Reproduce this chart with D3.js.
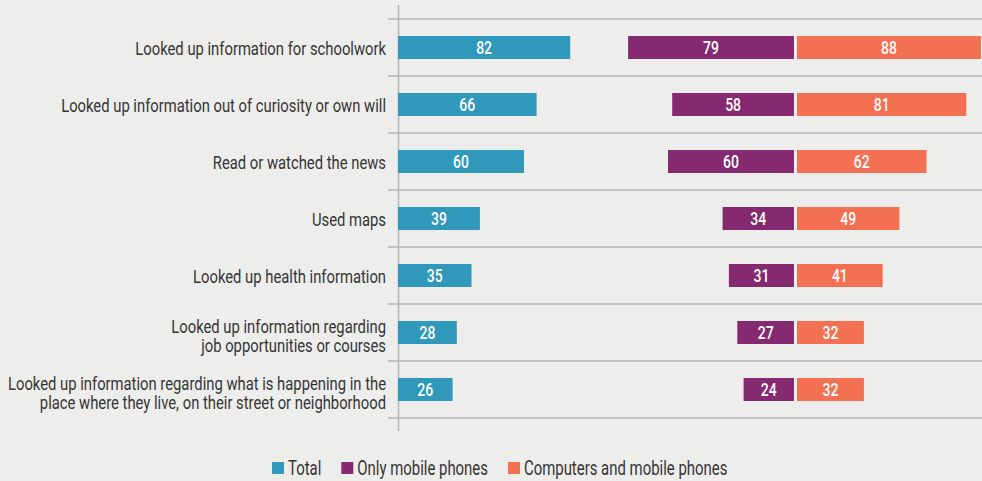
<!DOCTYPE html>
<html>
<head>
<meta charset="utf-8">
<script src="https://cdn.jsdelivr.net/npm/d3@7/dist/d3.min.js"></script>
<style>
  html, body { margin: 0; padding: 0; background: #ededeb; }
  svg { display: block; }
  text { font-family: Roboto, "Noto Sans", sans-serif; }
</style>
</head>
<body>
<svg id="chart" width="982" height="481"></svg>
<script>
const categories = [
  ["Looked up information for schoolwork"],
  ["Looked up information out of curiosity or own will"],
  ["Read or watched the news"],
  ["Used maps"],
  ["Looked up health information"],
  ["Looked up information regarding", "job opportunities or courses"],
  ["Looked up information regarding what is happening in the", "place where they live, on their street or neighborhood"]
];
const totalValues    = [82, 66, 60, 39, 35, 28, 26];
const mobileValues   = [79, 58, 60, 34, 31, 27, 24];
const computerValues = [88, 81, 62, 49, 41, 32, 32];
const seriesNames  = ["Total", "Only mobile phones", "Computers and mobile phones"];
const seriesColors = ["#2f98bb", "#852a70", "#f37052"];

const W = 982, H = 481;
const SX_LABEL = 0.80;
const SX_VALUE = 0.8;
const SX_LEGEND = 0.765;
const svg = d3.select("#chart");
svg.append("rect").attr("width", W).attr("height", H).attr("fill", "#ededeb");

const rowKeys = categories.map((c, i) => i);
const y = d3.scaleBand().domain(rowKeys).range([19, 418]).padding(0);
const barH = 23;
const barY = i => y(i) + (y.bandwidth() - barH) / 2;

const xTotal = d3.scaleLinear().domain([0, 100]).range([398, 608]);
const xMobile = d3.scaleLinear().domain([0, 100]).range([794, 584]);
const xComp = d3.scaleLinear().domain([0, 100]).range([797, 1006]);

// row separators
const sepYs = rowKeys.map(i => y(i)).concat([y(rowKeys.length - 1) + y.bandwidth()]);
svg.append("g").selectAll("line").data(sepYs).join("line")
  .attr("x1", 388).attr("x2", W)
  .attr("y1", d => d).attr("y2", d => d)
  .attr("stroke", "#b4b4b4").attr("stroke-width", 1.5);

// vertical axis
svg.append("line").attr("x1", 398.5).attr("x2", 398.5).attr("y1", 5).attr("y2", 431)
  .attr("stroke", "#b4b4b4").attr("stroke-width", 1.5);

function condensedText(sel, x, yy, anchor, sx) {
  return sel.append("g").attr("transform", `translate(${x},${yy}) scale(${sx},1)`)
    .append("text").attr("text-anchor", anchor);
}

// category labels (multi-line labels as one text with tspans)
rowKeys.forEach(i => {
  const lns = categories[i];
  const c = y(i) + y.bandwidth() / 2;
  const base = lns.length === 1 ? c + 7 : c + 0.5;
  const t = condensedText(svg, 386, base, "end", SX_LABEL)
    .attr("font-size", 18.5).attr("fill", "#353535");
  lns.forEach((ln, k) => {
    t.append("tspan").attr("x", 0).attr("dy", k === 0 ? 0 : 18.8).text(ln);
  });
});

// bars
const seriesDefs = [
  { vals: totalValues, x0: v => xTotal(0), w: v => xTotal(v) - xTotal(0), color: seriesColors[0] },
  { vals: mobileValues, x0: v => xMobile(v), w: v => xMobile(0) - xMobile(v), color: seriesColors[1] },
  { vals: computerValues, x0: v => xComp(0), w: v => xComp(v) - xComp(0), color: seriesColors[2] }
];
seriesDefs.forEach(s => {
  const g = svg.append("g");
  g.selectAll("rect").data(s.vals).join("rect")
    .attr("x", d => s.x0(d)).attr("y", (d, i) => barY(i))
    .attr("width", d => s.w(d)).attr("height", barH)
    .attr("fill", s.color);
  s.vals.forEach((d, i) => {
    condensedText(g, s.x0(d) + s.w(d) / 2, barY(i) + barH / 2 + 6.3, "middle", SX_VALUE)
      .attr("font-size", 17.5).attr("font-weight", 500).attr("fill", "#ffffff").text(d);
  });
});

// legend
let lx = 272;
const ly = 462;
seriesNames.forEach((name, i) => {
  svg.append("rect").attr("x", lx).attr("y", ly).attr("width", 12).attr("height", 12)
    .attr("fill", seriesColors[i]);
  const t = condensedText(svg, lx + 16, ly + 13, "start", SX_LEGEND)
    .attr("font-size", 19.5).attr("fill", "#353535").text(name);
  const w = t.node().getComputedTextLength() * SX_LEGEND;
  lx = lx + 16 + w + 20;
});
</script>
</body>
</html>
